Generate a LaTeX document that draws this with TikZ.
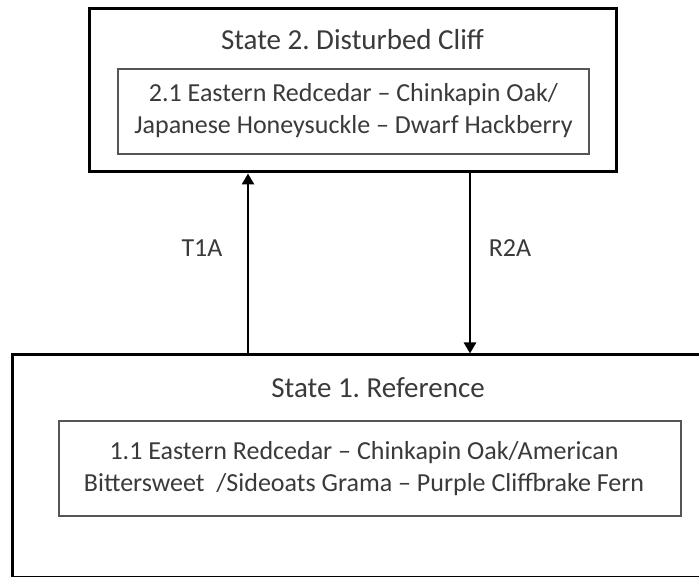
\documentclass[tikz,border=0pt]{standalone}
\usepackage{fontspec}
\setmainfont{Carlito}
\usetikzlibrary{arrows.meta,calc}
\definecolor{txt}{HTML}{3A3A3A}
\definecolor{inner}{HTML}{555555}
\begin{document}
\frenchspacing
\begin{tikzpicture}[x=1pt,y=1pt,
  outerbox/.style={draw=black,line width=3pt,minimum width=#1,inner sep=0pt},
  innerbox/.style={draw=inner,line width=1.6pt,inner sep=0pt},
  lbl/.style={text=txt,font=\fontsize{26}{32}\selectfont,align=center},
  ttl/.style={text=txt,font=\fontsize{29}{34}\selectfont},
  trans/.style={line width=2.6pt,-{Triangle[width=12pt,length=11pt]}}]
\useasboundingbox (0,0) rectangle (699,577);
\fill[white] (0,0) rectangle (699,577);
\begin{scope}
\clip (0,0) rectangle (699,577);
% top state
\node[outerbox=527pt,minimum height=163pt] (top) at (352.5,486.5) {};
\node[innerbox,minimum width=471pt,minimum height=85pt] (topin) at (353.5,465.5) {};
\node[ttl] (toptitle) at (352.5,537) {State 2. Disturbed Cliff};
\node[lbl] (toptext) at (353.5,466) {2.1 Eastern Redcedar – Chinkapin Oak/\\Japanese Honeysuckle – Dwarf Hackberry};
% bottom state
\node[outerbox=734pt,minimum height=222.5pt] (bot) at (379,110.75) {};
\node[innerbox,minimum width=622pt,minimum height=95pt] (botin) at (370,108.5) {};
\node[ttl] (bottitle) at (378,189) {State 1. Reference};
\node[lbl] (bottext) at (364,108) {1.1 Eastern Redcedar – Chinkapin Oak/American\\Bittersweet\ \ /Sideoats Grama – Purple Cliffbrake Fern};
\end{scope}
% transitions
\coordinate (tx) at (248,0);
\coordinate (rx) at (470,0);
\draw[trans] (bot.north -| tx) -- (top.south -| tx);
\draw[trans] (top.south -| rx) -- (bot.north -| rx);
\node[lbl] (t1a) at (202,329) {T1A};
\node[lbl] (r2a) at (510,329) {R2A};
\end{tikzpicture}
\end{document}
